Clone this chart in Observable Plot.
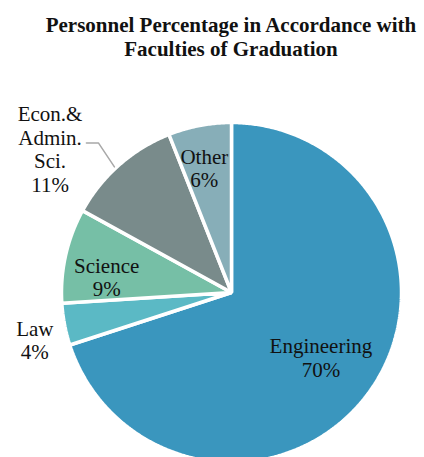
<!DOCTYPE html>
<html>
<head>
<meta charset="utf-8">
<script src="https://cdn.jsdelivr.net/npm/d3@7"></script>
<script src="https://cdn.jsdelivr.net/npm/@observablehq/plot@0.6"></script>
<style>
  html, body { margin: 0; padding: 0; background: #fff; }
  #title { font-family: "Liberation Serif", "Times New Roman", serif; font-weight: bold; font-size: 21px;
    line-height: 24px; text-align: center; padding-top: 13px; height: 48px; padding-left: 38px; box-sizing: content-box; width: 386px; color: #111; }
</style>
</head>
<body>
<div id="title">Personnel Percentage in Accordance with<br>Faculties of Graduation</div>
<div id="chart"></div>
<script>
// Data
const faculties = ["Engineering", "Law", "Science", "Econ.& Admin. Sci.", "Other"];
const labels = ["Engineering\n70%", "Law\n4%", "Science\n9%", "Econ.&\nAdmin.\nSci.\n11%", "Other\n6%"];
const percentages = [70, 4, 9, 11, 6];

// Styles
const palette = ["#3A96BE", "#5BB9C5", "#76BFA6", "#798B8B", "#87AEB8"];
const W = 424, H = 396, cx = 231, cy = 231, R = 170;
// label placement: [radius factor, angle shift in degrees]
const labelPlace = [[0.65, 0], [1.19, -2.8], [0.74, -5.6], [1.36, -10.3], [0.75, -1.5]];

const rows = faculties.map((f, i) => ({name: f, label: labels[i], value: percentages[i]}));
const arcs = d3.pie().sort(null).value(d => d.value)(rows);
const polar = (a, r) => [Math.sin(a) * r, Math.cos(a) * r];

const slicePts = [];
arcs.forEach(a => {
  slicePts.push({name: a.data.name, x: 0, y: 0});
  const n = Math.max(4, Math.ceil((a.endAngle - a.startAngle) / (Math.PI / 360)));
  for (let k = 0; k <= n; k++) {
    const t = a.startAngle + (a.endAngle - a.startAngle) * k / n;
    const [x, y] = polar(t, R);
    slicePts.push({name: a.data.name, x, y});
  }
});

const labelPts = arcs.map((a, i) => {
  const mid = (a.startAngle + a.endAngle) / 2 + labelPlace[i][1] * Math.PI / 180;
  const [x, y] = polar(mid, R * labelPlace[i][0]);
  return {x, y, label: a.data.label};
});

// leader line for Econ slice
const econ = arcs[3];
const pA = polar((econ.startAngle + econ.endAngle) / 2 - 1.6 * Math.PI / 180, R * 1.01);
const leader = [
  {x: pA[0], y: pA[1]},
  {x: pA[0] - 16, y: pA[1] + 24},
  {x: pA[0] - 28, y: pA[1] + 24}
];

const chart = Plot.plot({
  width: W, height: H,
  margin: 0,
  x: {domain: [-cx, W - cx], axis: null},
  y: {domain: [-(H - cy), cy], axis: null},
  color: {domain: faculties, range: palette},
  style: {fontFamily: "Liberation Serif, Times New Roman, serif", background: "#fff"},
  marks: [
    Plot.line(slicePts, {x: "x", y: "y", z: "name", fill: "name", stroke: "white", strokeWidth: 3.5, curve: "linear-closed", strokeLinejoin: "miter"}),
    Plot.line(leader, {x: "x", y: "y", stroke: "#a8a8a8", strokeWidth: 1.5}),
    Plot.text(labelPts, {x: "x", y: "y", text: "label", fontSize: 21, lineHeight: 1.12, fill: "#111"})
  ]
});
document.getElementById("chart").appendChild(chart);
</script>
</body>
</html>
